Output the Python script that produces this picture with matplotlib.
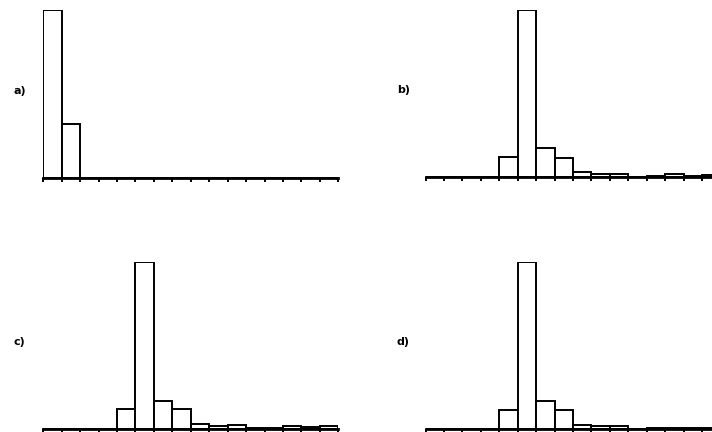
import numpy as np
import matplotlib
matplotlib.use("Agg")
import matplotlib.pyplot as plt

# relative frequency per bin (largest bin = 100), 16 bins per panel
panel_labels = ["a)", "b)", "c)", "d)"]
freq_a = [100, 32, 0, 0, 0, 0, 0, 0, 0, 0, 0, 0, 0, 0, 0, 0]
freq_b = [0, 0, 0, 0, 11.6, 100, 17.0, 11.2, 2.6, 1.8, 1.8, 0, 0.6, 1.5, 0.6, 0.9]
freq_c = [0, 0, 0, 0, 11.9, 100, 17.1, 11.9, 3.2, 2.0, 2.6, 0.8, 0.8, 1.8, 1.2, 1.8]
freq_d = [0, 0, 0, 0, 11.4, 100, 16.6, 11.0, 2.4, 1.6, 1.6, 0, 0.3, 0.6, 0.4, 0.6]

W, H = 712, 432
fig = plt.figure(figsize=(W / 100, H / 100), dpi=100)


def px_axes(left, baseline, top, width=295):
    # axes rectangle given in pixel coordinates measured from the top-left corner
    return fig.add_axes([left / W, 1 - baseline / H, width / W, (baseline - top) / H])


def draw_hist(ax, freq):
    n = len(freq)
    edges = np.arange(n + 1)
    ax.bar(edges[:-1], freq, width=1, align="edge", facecolor="white",
           edgecolor="black", linewidth=1.4)
    ax.set_xlim(0, n)
    ax.set_ylim(0, max(freq))
    ax.set_xticks(edges)
    ax.set_xticklabels([])
    ax.set_yticks([])
    ax.tick_params(axis="x", direction="out", length=3, width=1.4, colors="black")
    for side in ["top", "right", "left"]:
        ax.spines[side].set_visible(False)
    ax.spines["bottom"].set_linewidth(2)
    ax.patch.set_alpha(0)


layout = [
    (freq_a, 43.3, 177.7, 10.0, (13, 91)),
    (freq_b, 425.5, 176.7, 10.0, (397, 90)),
    (freq_c, 43.3, 429.3, 261.7, (13, 342)),
    (freq_d, 425.5, 428.5, 262.0, (397, 342)),
]

for label, (freq, left, base, top, (tx, ty)) in zip(panel_labels, layout):
    ax = px_axes(left, base, top)
    draw_hist(ax, freq)
    fig.text(tx / W, 1 - ty / H, label, ha="left", va="center",
             fontsize=8, fontweight="bold", family="DejaVu Sans")

fig.savefig("out.png", dpi=100, facecolor="white")
